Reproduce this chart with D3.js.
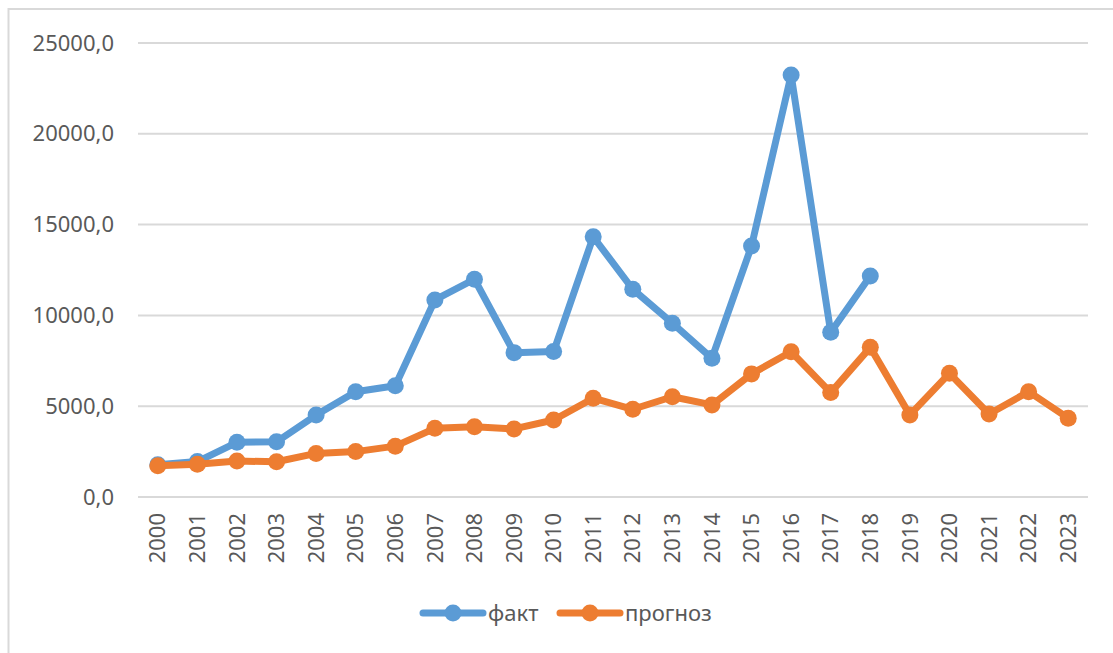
<!DOCTYPE html>
<html>
<head>
<meta charset="utf-8">
<script src="https://cdn.jsdelivr.net/npm/d3@7"></script>
<style>
  body { margin: 0; background: #fff; }
  text { font-family: "Noto Sans", "Open Sans", sans-serif; fill: #595959; }
</style>
</head>
<body>
<script>
const years = ["2000", "2001", "2002", "2003", "2004", "2005", "2006", "2007", "2008", "2009", "2010", "2011",
  "2012", "2013", "2014", "2015", "2016", "2017", "2018", "2019", "2020", "2021", "2022", "2023"];
// факт: only up to 2018
const fact = [1780, 1950, 3010, 3040, 4510, 5800, 6130, 10850, 11990, 7950, 8010, 14330,
  11440, 9570, 7640, 13820, 23240, 9070, 12170];
const forecast = [1720, 1800, 1980, 1940, 2400, 2500, 2800, 3780, 3870, 3750, 4240, 5440,
  4830, 5520, 5070, 6780, 8000, 5750, 8240, 4520, 6810, 4570, 5800, 4340];
const yTicks = [0, 5000, 10000, 15000, 20000, 25000];

const width = 1113;
const height = 653;

const svg = d3.select("body")
  .append("svg")
  .attr("width", width)
  .attr("height", height);

// chart area border (runs off right and bottom)
svg.append("rect")
  .attr("x", 8.5)
  .attr("y", 9)
  .attr("width", 1200)
  .attr("height", 1000)
  .attr("fill", "none")
  .attr("stroke", "#d9d9d9")
  .attr("stroke-width", 2);

const x = d3.scaleBand()
  .domain(years)
  .range([138, 1088]);

const y = d3.scaleLinear()
  .domain([0, 25000])
  .range([497, 43]);

const fmt = (d) => d3.format(".1f")(d).replace(".", ",");

// gridlines
svg.append("g")
  .selectAll("line")
  .data(yTicks)
  .enter()
  .append("line")
  .attr("x1", 138)
  .attr("x2", 1088)
  .attr("y1", (d) => y(d))
  .attr("y2", (d) => y(d))
  .attr("stroke", "#d9d9d9")
  .attr("stroke-width", 2);

const yAxis = d3.axisLeft(y).tickValues(yTicks).tickFormat(fmt).tickSize(0).tickPadding(24);
const gy = svg.append("g")
  .attr("transform", "translate(138,0)")
  .call(yAxis);
gy.select(".domain").remove();
gy.selectAll("text").style("font-size", "22px").attr("fill", "#595959");

const xAxis = d3.axisBottom(x).tickSize(0).tickPadding(0);
const gx = svg.append("g")
  .attr("transform", "translate(0,497)")
  .call(xAxis);
gx.select(".domain").remove();
gx.selectAll("text")
  .style("font-size", "22px")
  .attr("fill", "#595959")
  .attr("text-anchor", "end")
  .attr("dy", "0.35em")
  .attr("transform", "translate(0,16) rotate(-90)");

const cx = (d, i) => x(years[i]) + x.bandwidth() / 2;

const series = [
  { name: "факт", values: fact, color: "#5b9bd5" },
  { name: "прогноз", values: forecast, color: "#ed7d31" }
];

const line = d3.line()
  .x(cx)
  .y((d) => y(d));

series.forEach((s) => {
  const g = svg.append("g");
  g.append("path")
    .datum(s.values)
    .attr("d", line)
    .attr("fill", "none")
    .attr("stroke", s.color)
    .attr("stroke-width", 7)
    .attr("stroke-linejoin", "round");
  g.selectAll("circle")
    .data(s.values)
    .enter()
    .append("circle")
    .attr("cx", cx)
    .attr("cy", (d) => y(d))
    .attr("r", 8.5)
    .attr("fill", s.color);
});

// legend
const legendPos = [423, 560];
const legend = svg.append("g").attr("transform", "translate(0,613)");
series.forEach((s, i) => {
  const lx = legendPos[i];
  legend.append("line")
    .attr("x1", lx)
    .attr("x2", lx + 60)
    .attr("stroke", s.color)
    .attr("stroke-width", 7)
    .attr("stroke-linecap", "round");
  legend.append("circle")
    .attr("cx", lx + 30)
    .attr("r", 8.5)
    .attr("fill", s.color);
  legend.append("text")
    .attr("x", lx + 65)
    .attr("dy", "0.35em")
    .style("font-size", "22px")
    .text(s.name);
});
</script>
</body>
</html>
